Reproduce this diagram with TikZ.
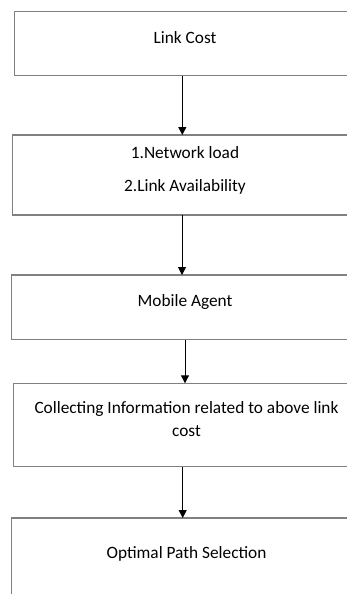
\documentclass[tikz,border=0pt]{standalone}
\usepackage{fontspec}
\setmainfont{Carlito}
\usetikzlibrary{arrows.meta}
\begin{document}
\begin{tikzpicture}[x=1pt,y=-1pt,
  stepbox/.style={draw=black!50,line width=1.1pt},
  flow/.style={draw=black,line width=1pt,-{Triangle[width=8pt,length=8pt]}},
  lbl/.style={font=\fontsize{17.3}{20}\selectfont,inner sep=0pt,anchor=center}]
\useasboundingbox (0,0) rectangle (347,594);
\begin{scope}
\clip (0,0) rectangle (347,594);
% boxes run past the right edge of the page
\draw[stepbox] (14.7,11.7) rectangle (360,75.7);
\draw[stepbox] (12.7,135) rectangle (360,215);
\draw[stepbox] (11.7,275) rectangle (360,339.7);
\draw[stepbox] (13.3,383.3) rectangle (360,466.7);
\draw[stepbox] (360,610) -- (11.7,610) -- (11.7,518) -- (360,518);
\end{scope}
\node[lbl] (t1) at (185,38) {Link Cost};
\node[lbl] (t2a) at (185,153) {1.Network load};
\node[lbl] (t2b) at (185,187) {2.Link Availability};
\node[lbl] (t3) at (185,302.3) {Mobile Agent};
\node[lbl] (t4a) at (186.5,409) {Collecting Information related to above link};
\node[lbl] (t4b) at (186.5,430.7) {cost};
\node[lbl] (t5) at (186.5,554) {Optimal Path Selection};
\coordinate (a1s) at (182.3,75.7);
\coordinate (a1e) at (182.3,135);
\coordinate (a2s) at (182,215);
\coordinate (a2e) at (182,275);
\coordinate (a3s) at (185,339.7);
\coordinate (a3e) at (185,383.3);
\coordinate (a4s) at (182.7,466.7);
\coordinate (a4e) at (182.7,518);
\draw[flow] (a1s) -- (a1e);
\draw[flow] (a2s) -- (a2e);
\draw[flow] (a3s) -- (a3e);
\draw[flow] (a4s) -- (a4e);
\end{tikzpicture}
\end{document}
